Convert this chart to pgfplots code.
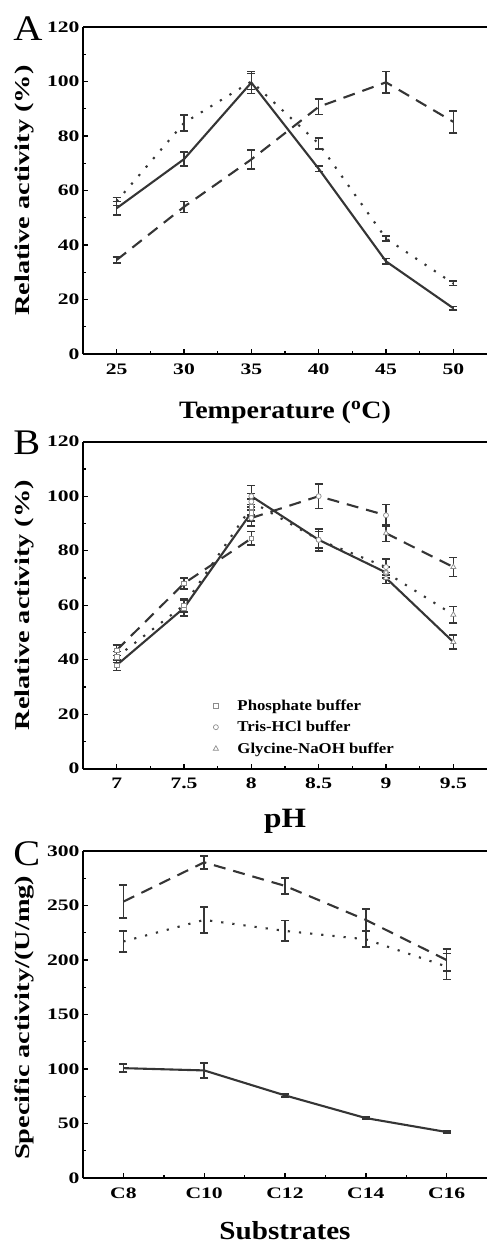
\documentclass[border=0pt]{standalone}
\usepackage{fontspec}
\setmainfont{Liberation Serif}[FakeStretch=1.12]
\newfontfamily\wide{Liberation Serif}[FakeStretch=1.35]
\usepackage{pgfplots}
\pgfplotsset{compat=1.18}
\definecolor{lc}{HTML}{353535}
\definecolor{mc}{HTML}{8C8C8C}
\tikzset{plabel/.style={anchor=base west, inner sep=0pt, font=\fontsize{36}{36}\selectfont}}
\pgfplotsset{
  panel/.style={
    scale only axis, width=404pt, height=327pt,
    axis x line*=box, axis y line*=left,
    xtick pos=lower, ytick pos=left,
    tick align=inside,
    major tick length=5pt, minor tick length=3pt,
    every tick/.style={line width=1.4pt, black},
    axis line style={line width=1.8pt, black},
    tick label style={font=\wide\bfseries\fontsize{16}{16}\selectfont},
    /pgf/number format/assume math mode=true,
    xlabel style={font=\bfseries\fontsize{25}{25}\selectfont, anchor=base},
    ylabel style={at={(axis description cs:-0.145,0.5)}, anchor=center, font=\wide\bfseries\fontsize{21}{21}\selectfont},
    xticklabel style={yshift=-6pt},
  },
  ser/.style={color=lc, line width=2.1pt, mark=none,
    error bars/y dir=both, error bars/y explicit,
    error bars/error bar style={line width=1.6pt, solid, color=lc},
    error bars/error mark options={rotate=90, mark size=4pt, line width=1.6pt, solid, color=lc}},
  dsh/.style={dash pattern=on 12pt off 8pt},
  dtt/.style={dash pattern=on 2.2pt off 9pt},
  msq/.style={mark=square*, mark size=2.3pt, mark options={fill=white, draw=mc, line width=0.7pt, solid}},
  mci/.style={mark=*, mark size=2.5pt, mark options={fill=white, draw=mc, line width=0.7pt, solid}},
  mtr/.style={mark=triangle*, mark size=3pt, mark options={fill=white, draw=mc, line width=0.7pt, solid}},
}
\begin{document}
\begin{tikzpicture}
% ---------------- Panel A ----------------
\begin{axis}[panel, at={(83pt,-27pt)}, anchor=north west,
  xmin=22.5, xmax=52.5, ymin=0, ymax=120,
  xtick={25,30,...,50}, ytick={0,20,...,120},
  minor xtick={27.5,32.5,...,47.5}, minor ytick={10,30,...,110},
  xlabel={Temperature (\textsuperscript{o}C)},
  xlabel style={at={(axis description cs:0.5,-0.196)}},
  ylabel={Relative activity (\%)},
  extra description/.code={\node[plabel] at (-0.173,0.96) {A};}]
\addplot+[ser, solid] table[row sep=\\, y error=e] {x y e\\ 25 53.5 2.5\\ 30 71.5 2.6\\ 35 99.6 4\\ 40 68 1\\ 45 34 1\\ 50 16.8 0.7\\};
\addplot+[ser, dtt] table[row sep=\\, y error=e] {x y e\\ 25 56 1.5\\ 30 84.8 3\\ 35 100 3\\ 40 77.2 2\\ 45 42.4 1\\ 50 25.9 0.8\\};
\addplot+[ser, dsh] table[row sep=\\, y error=e] {x y e\\ 25 34.5 1.2\\ 30 54 2\\ 35 71.4 3.5\\ 40 90.7 2.8\\ 45 99.7 4\\ 50 85.2 4\\};
\end{axis}
% ---------------- Panel B ----------------
\begin{axis}[panel, at={(83pt,-441.7pt)}, anchor=north west,
  xmin=6.75, xmax=9.75, ymin=0, ymax=120,
  xtick={7,7.5,...,9.5}, ytick={0,20,...,120},
  minor xtick={7.25,7.75,...,9.25}, minor ytick={10,30,...,110},
  xlabel={pH},
  xlabel style={at={(axis description cs:0.5,-0.18)}, font=\bfseries\fontsize{28}{28}\selectfont},
  ylabel={Relative activity (\%)},
  legend style={draw=none, fill=none, at={(axis description cs:0.322,0.215)}, anchor=north west,
    font=\bfseries\fontsize{15}{15}\selectfont, row sep=7.5pt, inner sep=0pt,
    nodes={inner sep=1pt}, /tikz/every odd column/.append style={column sep=18pt}},
  legend cell align=left,
  extra description/.code={\node[plabel] at (-0.173,0.96) {B};}]
\addlegendimage{only marks, mark=square, mark size=2.3pt, mark options={draw=mc, line width=0.7pt}}
\addlegendentry{Phosphate buffer}
\addlegendimage{only marks, mark=o, mark size=2.5pt, mark options={draw=mc, line width=0.7pt}}
\addlegendentry{Tris-HCl buffer}
\addlegendimage{only marks, mark=triangle, mark size=3pt, mark options={draw=mc, line width=0.7pt}}
\addlegendentry{Glycine-NaOH buffer}
% solid
\addplot+[ser, solid, msq, forget plot] table[row sep=\\, y error=e] {x y e\\ 7 38 2\\ 7.5 59 3\\ 8 94 3\\};
\addplot+[ser, solid, mci, forget plot] table[row sep=\\, y error=e] {x y e\\ 8 100 4\\ 8.5 84 4\\ 9 72 2\\};
\addplot+[ser, solid, mtr, forget plot] table[row sep=\\, y error=e] {x y e\\ 9 70 2\\ 9.5 46.5 2.5\\};
% dotted
\addplot+[ser, dtt, msq, forget plot] table[row sep=\\, y error=e] {x y e\\ 7 41 2\\ 7.5 60 2.5\\ 8 96 3\\};
\addplot+[ser, dtt, mci, forget plot] table[row sep=\\, y error=e] {x y e\\ 8 98 3\\ 8.5 84 3\\ 9 74 3\\};
\addplot+[ser, dtt, mtr, forget plot] table[row sep=\\, y error=e] {x y e\\ 9 72 2\\ 9.5 56.5 3\\};
% dashed
\addplot+[ser, dsh, msq, forget plot] table[row sep=\\, y error=e] {x y e\\ 7 43.5 2\\ 7.5 68 2\\ 8 84.5 2.5\\};
\addplot+[ser, dsh, mci, forget plot] table[row sep=\\, y error=e] {x y e\\ 8 92 3\\ 8.5 100 4.5\\ 9 93 4\\};
\addplot+[ser, dsh, mtr, forget plot] table[row sep=\\, y error=e] {x y e\\ 9 86.4 3\\ 9.5 74 3.5\\};
\end{axis}
% ---------------- Panel C ----------------
\begin{axis}[panel, at={(83pt,-851pt)}, anchor=north west,
  xmin=-0.5, xmax=4.5, ymin=0, ymax=300,
  xtick={0,1,2,3,4}, xticklabels={C8,C10,C12,C14,C16},
  ytick={0,50,...,300},
  minor xtick={0.5,1.5,2.5,3.5}, minor ytick={25,75,...,275},
  xlabel={Substrates},
  xlabel style={at={(axis description cs:0.5,-0.188)}, font=\bfseries\fontsize{26}{26}\selectfont},
  ylabel={Specific activity/(U/mg)},
  ylabel style={at={(axis description cs:-0.145,0.49)}, font=\wide\bfseries\fontsize{21}{21}\selectfont},
  extra description/.code={\node[plabel] at (-0.173,0.955) {C};}]
\addplot+[ser, solid] table[row sep=\\, y error=e] {x y e\\ 0 100.8 3.8\\ 1 98.7 6.7\\ 2 75.8 1.5\\ 3 55 1\\ 4 42.2 1\\};
\addplot+[ser, dtt] table[row sep=\\, y error=e] {x y e\\ 0 217 9.5\\ 1 236.8 12\\ 2 226.7 9.5\\ 3 219 7\\ 4 194 12\\};
\addplot+[ser, dsh] table[row sep=\\, y error=e] {x y e\\ 0 253.6 15\\ 1 289.6 6\\ 2 268 7.5\\ 3 236.8 10\\ 4 200 10\\};
\end{axis}
\pgfresetboundingbox
\path[use as bounding box] (0,0) rectangle (487pt,-1244pt);
\end{tikzpicture}
\end{document}
